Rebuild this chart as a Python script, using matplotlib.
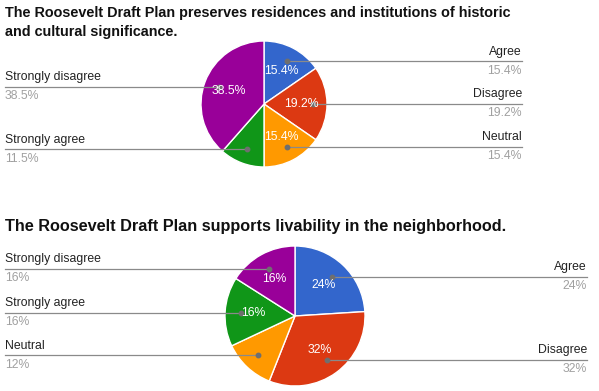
import numpy as np
import matplotlib
matplotlib.use("Agg")
import matplotlib.pyplot as plt

plt.rcParams['font.family'] = ['Liberation Sans', 'DejaVu Sans']

W, H = 599, 391

categories = ["Agree", "Disagree", "Neutral", "Strongly agree", "Strongly disagree"]
colors = ["#3366cc", "#dc3912", "#ff9900", "#109618", "#990099"]

title1 = "The Roosevelt Draft Plan preserves residences and institutions of historic\nand cultural significance."
pct1 = [15.4, 19.2, 15.4, 11.5, 38.5]
pct1_labels = ["15.4%", "19.2%", "15.4%", "11.5%", "38.5%"]

title2 = "The Roosevelt Draft Plan supports livability in the neighborhood."
pct2 = [24, 32, 12, 16, 16]
pct2_labels = ["24%", "32%", "12%", "16%", "16%"]

fig = plt.figure(figsize=(W / 100, H / 100), dpi=100)
ax = fig.add_axes([0, 0, 1, 1])


def draw(vals, labs, fmt, cx, cy, r, xright):
    # cy given in pixels from the top
    c = (cx, H - cy)
    wedges, _, autos = ax.pie(vals, colors=colors, startangle=90, counterclock=False,
                              center=c, radius=r, autopct=fmt, pctdistance=0.6,
                              wedgeprops=dict(edgecolor="white", linewidth=1),
                              textprops=dict(color="white", fontsize=8.8))
    for t in autos:
        t.set_zorder(8)
    for w, name, lab in zip(wedges, categories, labs):
        mid = np.deg2rad((w.theta1 + w.theta2) / 2)
        dx = c[0] + 0.77 * r * np.cos(mid)
        dy = c[1] + 0.77 * r * np.sin(mid)
        if np.cos(mid) >= 0:
            x0, x1, tx, ha = dx, xright, xright, "right"
        else:
            x0, x1, tx, ha = 5, dx, 5, "left"
        ax.plot([x0, x1], [dy, dy], color="#8a8a8a", lw=0.9, zorder=5)
        ax.plot([dx], [dy], "o", color="#6f6f6f", ms=3.2, zorder=6)
        ax.text(tx, dy + 9.5, name, ha=ha, va="center", fontsize=8.8, color="#222222")
        ax.text(tx, dy - 9.5, lab, ha=ha, va="center", fontsize=8.8, color="#a0a0a0")


draw(pct1, pct1_labels, lambda p: f"{p:.1f}%" if p > 13 else "", 264, 104, 63, 522)
draw(pct2, pct2_labels, lambda p: f"{p:.0f}%" if p > 13 else "", 295, 316, 70, 587)

ax.text(5, H - 22.5, title1, ha="left", va="center", fontsize=10.4, fontweight="bold",
        color="#111111", linespacing=1.45)
ax.text(5, H - 227, title2, ha="left", va="center", fontsize=11.7, fontweight="bold",
        color="#111111")

ax.set_xlim(0, W)
ax.set_ylim(0, H)
ax.set_aspect("equal")
ax.axis("off")

fig.savefig("out.png", dpi=100)
